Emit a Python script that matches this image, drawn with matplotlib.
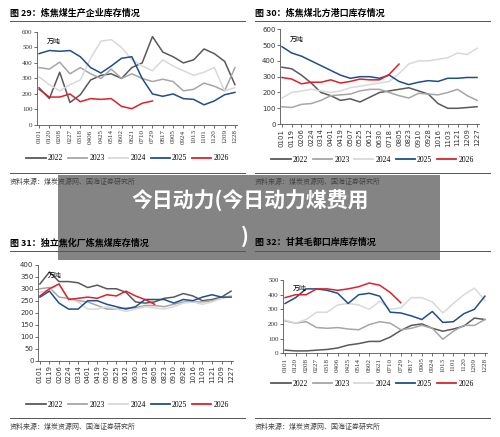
import numpy as np
import matplotlib.pyplot as plt
from matplotlib.patches import Rectangle
from matplotlib.lines import Line2D

plt.rcParams['font.family'] = ['Noto Sans CJK SC', 'DejaVu Sans']

years = ['2022', '2023', '2024', '2025', '2026']
colors = ['#595959', '#a6a6a6', '#d9d9d9', '#1f4e8c', '#e0202a']

ticks_a = ['0101', '0120', '0208', '0227', '0318', '0406', '0425', '0514', '0602', '0621',
           '0710', '0729', '0817', '0905', '0924', '1013', '1101', '1120', '1209', '1228']
ticks_b = ['0101', '0119', '0206', '0224', '0314', '0401', '0419', '0507', '0525', '0612',
           '0630', '0718', '0805', '0823', '0910', '0928', '1016', '1103', '1121', '1209', '1227']

# Fig 29: producer inventory
p29 = [
    [240, 170, 340, 145, 195, 290, 320, 330, 300, 370, 400, 570, 470, 440, 400, 420, 490, 460, 410, 260],
    [370, 360, 405, 330, 370, 330, 300, 360, 300, 330, 300, 280, 295, 280, 220, 230, 270, 250, 220, 370],
    [310, 260, 220, 260, 290, 430, 540, 550, 500, 420, 380, 350, 420, 380, 350, 320, 340, 370, 220, 240],
    [460, 480, 475, 480, 440, 370, 335, 380, 430, 440, 300, 200, 185, 200, 170, 165, 130, 155, 195, 210],
    [230, 180, 180, 200, 150, 170, 165, 170, 120, 105, 140, 155],
]
# Fig 30: northern ports
p30 = [
    [360, 350, 310, 260, 200, 180, 150, 160, 140, 170, 200, 210, 220, 230, 210, 190, 130, 100, 100, 105, 110],
    [110, 105, 125, 130, 150, 180, 185, 190, 210, 220, 220, 200, 180, 165, 195, 190, 185, 200, 220, 180, 150],
    [165, 200, 210, 220, 210, 200, 210, 230, 240, 250, 260, 270, 320, 380, 400, 400, 410, 420, 450, 440, 480],
    [490, 450, 430, 400, 370, 340, 310, 290, 300, 300, 290, 310, 270, 250, 265, 275, 270, 290, 290, 295, 295],
    [295, 285, 255, 265, 265, 280, 260, 270, 285, 280, 280, 315, 380],
]
# Fig 31: independent coking plants
p31 = [
    [320, 370, 330, 330, 325, 305, 315, 300, 300, 285, 245, 240, 245, 260, 265, 280, 270, 250, 255, 265, 290],
    [300, 305, 265, 260, 250, 245, 230, 215, 215, 220, 220, 230, 230, 225, 235, 245, 245, 245, 250, 260, 270],
    [285, 295, 320, 255, 245, 215, 215, 225, 215, 205, 215, 225, 220, 215, 225, 240, 245, 235, 245, 260, 270],
    [265, 290, 240, 215, 215, 250, 250, 235, 225, 215, 225, 255, 255, 255, 240, 255, 250, 265, 275, 265, 265],
    [270, 300, 320, 255, 260, 265, 260, 275, 270, 290, 270, 255, 235],
]
# Fig 32: Ganqimaodu port
p32 = [
    [20, 15, 15, 20, 25, 35, 55, 65, 80, 80, 110, 155, 190, 200, 170, 150, 165, 185, 240, 230],
    [220, 205, 215, 175, 170, 175, 165, 160, 195, 215, 205, 160, 170, 190, 170, 95, 150, 190, 190, 230],
    [225, 205, 230, 280, 280, 330, 340, 330, 300, 355, 300, 310, 380, 380, 350, 275, 340, 400, 445, 360],
    [340, 380, 440, 440, 430, 410, 340, 400, 410, 390, 280, 275, 255, 230, 285, 210, 215, 270, 300, 390],
    [380, 400, 400, 440, 440, 430, 440, 455, 480, 465, 415, 345],
]

panels = [
    ('图 29：炼焦煤生产企业库存情况', p29, ticks_a, 600, 100, [0.074, 0.714, 0.40, 0.213], 'serif', 0.02),
    ('图 30：炼焦煤北方港口库存情况', p30, ticks_b, 600, 100, [0.560, 0.716, 0.398, 0.217], 'sans', 0.51),
    ('图 31：独立焦化厂炼焦煤库存情况', p31, ticks_b, 400, 50, [0.076, 0.175, 0.39, 0.219], 'sans', 0.02),
    ('图 32：甘其毛都口岸库存情况', p32, ticks_a, 500, 100, [0.566, 0.192, 0.408, 0.167], 'serif', 0.51),
]
title_y = [0.982, 0.982, 0.455, 0.455]
leg_y = [0.638, 0.635, 0.074, 0.122]
src_y = [0.583, 0.583, 0.022, 0.022]

fig = plt.figure(figsize=(5, 4.37), dpi=100)

for i, (title, data, ticks, ymax, ystep, rect, tf, x0) in enumerate(panels):
    ax = fig.add_axes(rect)
    for j, vals in enumerate(data):
        ax.plot(np.arange(len(vals)), vals, color=colors[j], lw=1.1)
    ax.set_xlim(-0.2, len(ticks) - 1 + 0.2)
    ax.set_ylim(0, ymax)
    ax.set_yticks(np.arange(0, ymax + 1, ystep))
    ax.set_xticks(np.arange(len(ticks)))
    ax.set_xticklabels(ticks, rotation=90)
    fam = ['Liberation Serif'] if tf == 'serif' else ['DejaVu Sans']
    for lab in ax.get_xticklabels() + ax.get_yticklabels():
        lab.set_family(fam)
        lab.set_fontsize(5)
    ax.tick_params(length=2, width=0.5, pad=1.2, colors='#333333')
    for s in ['top', 'right']:
        ax.spines[s].set_visible(False)
    for s in ['left', 'bottom']:
        ax.spines[s].set_linewidth(0.6)
        ax.spines[s].set_color('#555555')
    ax.text(0.05, 0.93, '万吨', transform=ax.transAxes, fontsize=5, va='top')

    fig.text(x0, title_y[i], title, fontsize=6.5, fontweight='bold', va='top')
    fig.add_artist(Line2D([x0, x0 + 0.47], [title_y[i] - 0.03] * 2, color='#555555', lw=0.7))
    handles = [Line2D([], [], color=c, lw=1.3) for c in colors]
    fig.legend(handles, years, loc='center', bbox_to_anchor=(x0 + 0.235, leg_y[i]), ncol=5,
               frameon=False, handlelength=2.5, columnspacing=0.6,
               handletextpad=0.3, prop={'family': 'Liberation Serif', 'size': 5.5})
    fig.add_artist(Line2D([x0, x0 + 0.47], [src_y[i] + 0.022] * 2, color='#555555', lw=0.7))
    fig.text(x0, src_y[i], '资料来源：煤炭资源网、国海证券研究所', fontsize=5, color='#444444', va='center')

# grey overlay banner
fig.add_artist(Rectangle((0.116, 0.405), 0.764, 0.195, transform=fig.transFigure,
                         facecolor='#6e6e6e', alpha=0.85, edgecolor='none'))
fig.text(0.5, 0.54, '今日动力(今日动力煤费用', color='white', fontsize=15, fontweight='bold',
         ha='center', va='center')
fig.text(0.49, 0.46, ')', color='white', fontsize=15, fontweight='bold', ha='center', va='center')

fig.savefig('out.png', dpi=100)
